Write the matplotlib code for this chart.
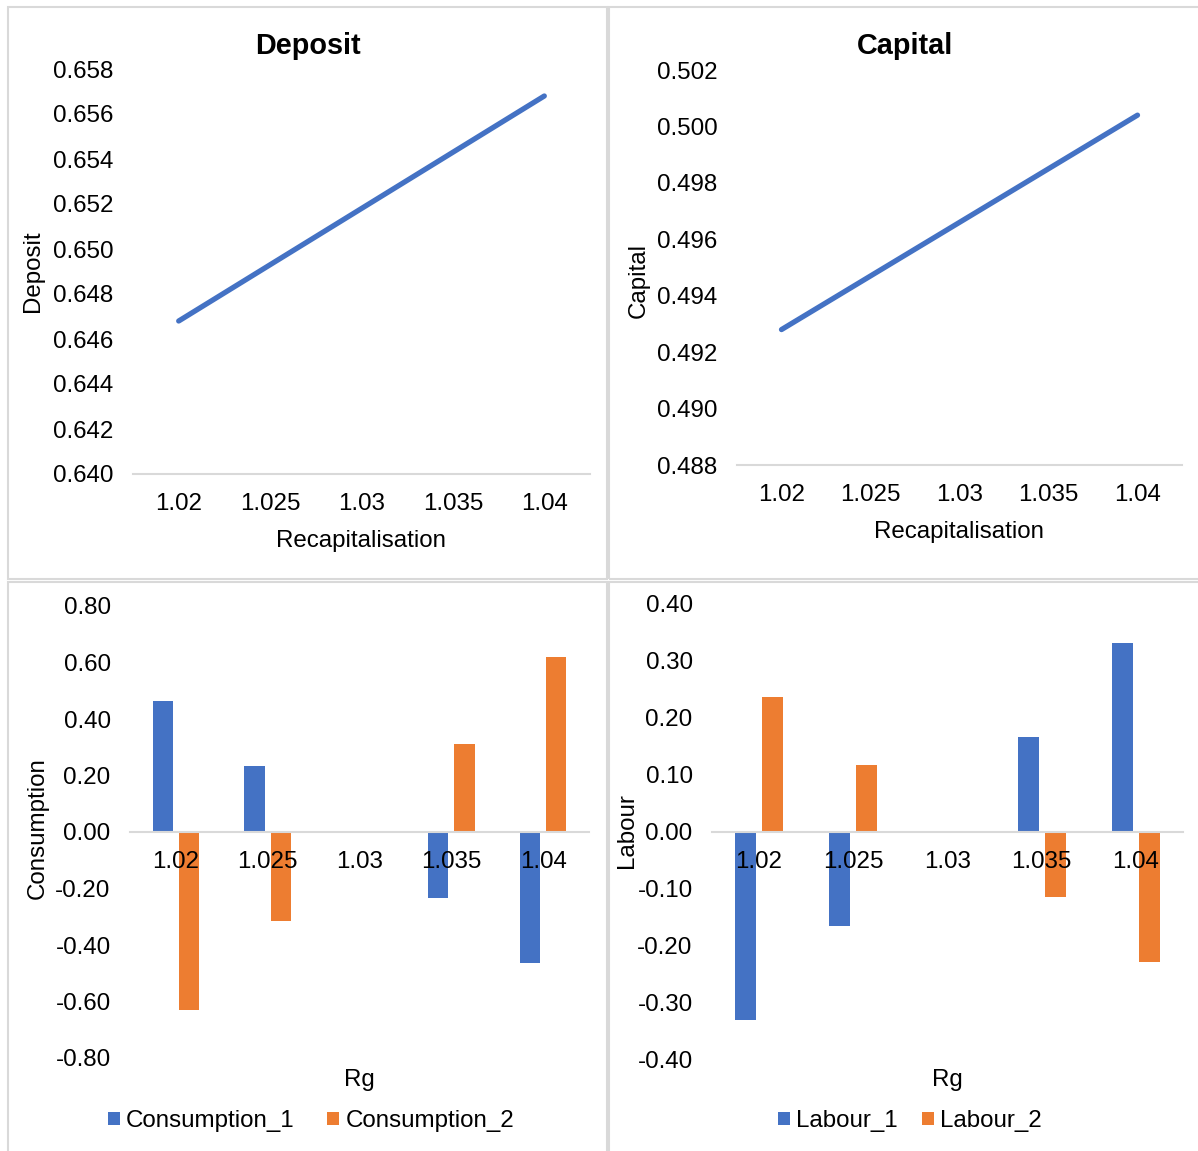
import matplotlib
matplotlib.use('Agg')

import numpy as np
import matplotlib.pyplot as plt
from matplotlib.patches import Rectangle
from matplotlib.ticker import FormatStrFormatter

plt.rcParams['font.family'] = ['Liberation Sans', 'DejaVu Sans']
plt.rcParams['font.size'] = 17.4
plt.rcParams['axes.unicode_minus'] = False

# data
rg = ['1.02', '1.025', '1.03', '1.035', '1.04']
deposit = [0.6468, 0.6493, 0.6518, 0.6543, 0.6568]
capital = [0.4928, 0.4947, 0.4966, 0.4985, 0.5004]
consumption_1 = [0.465, 0.232, 0.0, -0.232, -0.465]
consumption_2 = [-0.63, -0.315, 0.0, 0.31, 0.62]
labour_1 = [-0.33, -0.165, 0.0, 0.165, 0.33]
labour_2 = [0.235, 0.117, 0.0, -0.114, -0.229]

BLUE = '#4472C4'
ORANGE = '#ED7D31'
AXIS_GREY = '#D9D9D9'
FS = 17.4

W, H = 1198, 1151
fig = plt.figure(figsize=(W / 100, H / 100), dpi=100)


def box(x0, y0, x1, y1):
    # pixel box (origin top-left) -> figure fraction rect
    return [x0 / W, 1 - y1 / H, (x1 - x0) / W, (y1 - y0) / H]


def ticks(lo, hi, step, nd):
    # rounded tick values, with +0.0 so zero never prints as "-0.00"
    n = int(round((hi - lo) / step))
    return [round(lo + i * step, nd) + 0.0 for i in range(n + 1)]


# chart area frames
for x0, y0, x1, y1 in [(8, 7, 607, 579), (609, 7, 1205, 579),
                       (8, 582, 607, 1160), (609, 582, 1205, 1160)]:
    fig.add_artist(Rectangle((x0 / W, 1 - y1 / H), (x1 - x0) / W, (y1 - y0) / H,
                             transform=fig.transFigure, fill=False,
                             edgecolor=AXIS_GREY, linewidth=1.5))


def style(ax):
    for s in ['top', 'right', 'left']:
        ax.spines[s].set_visible(False)
    ax.spines['bottom'].set_color(AXIS_GREY)
    ax.spines['bottom'].set_linewidth(1.5)
    ax.tick_params(axis='both', length=0, labelsize=FS)
    ax.tick_params(axis='y', pad=14)
    ax.tick_params(axis='x', pad=14)
    ax.set_xticks(range(len(rg)))
    ax.set_xticklabels(rg)
    ax.set_xlim(-0.5, len(rg) - 0.5)
    ax.patch.set_alpha(0)


x = np.arange(len(rg))

# Deposit
ax1 = fig.add_axes(box(133, 69, 590, 474))
style(ax1)
ax1.plot(x, deposit, color=BLUE, lw=3.8, solid_capstyle='round')
ax1.set_ylim(0.640, 0.658)
ax1.set_yticks(ticks(0.640, 0.658, 0.002, 3))
ax1.yaxis.set_major_formatter(FormatStrFormatter('%.3f'))
ax1.set_ylabel('Deposit')
ax1.yaxis.set_label_coords(-0.195, 0.5)
ax1.set_xlabel('Recapitalisation')
ax1.xaxis.set_label_coords(0.5, -0.138)
fig.text(307.5 / W, 1 - 46 / H, 'Deposit', ha='center', va='center',
         fontsize=20.8, fontweight='bold')

# Capital
ax2 = fig.add_axes(box(737, 70, 1182, 465))
style(ax2)
ax2.plot(x, capital, color=BLUE, lw=3.8, solid_capstyle='round')
ax2.set_ylim(0.488, 0.502)
ax2.set_yticks(ticks(0.488, 0.502, 0.002, 3))
ax2.yaxis.set_major_formatter(FormatStrFormatter('%.3f'))
ax2.set_ylabel('Capital')
ax2.yaxis.set_label_coords(-0.195, 0.468)
ax2.set_xlabel('Recapitalisation')
ax2.xaxis.set_label_coords(0.5, -0.141)
fig.text(905 / W, 1 - 46 / H, 'Capital', ha='center', va='center',
         fontsize=20.8, fontweight='bold')


def bars(ax, s1, s2, n1, n2, legend_x, colspace):
    style(ax)
    ax.spines['bottom'].set_position(('data', 0))
    w = 0.223
    off = 0.143
    b1 = ax.bar(x - off, s1, width=w, color=BLUE, label=n1, zorder=1)
    b2 = ax.bar(x + off, s2, width=w, color=ORANGE, label=n2, zorder=1)
    ax.yaxis.set_major_formatter(FormatStrFormatter('%.2f'))
    ax.set_xlabel('Rg')
    fig.legend([b1, b2], [n1, n2], loc='center',
               bbox_to_anchor=(legend_x / W, 1 - 1121 / H), ncol=2,
               frameon=False, handlelength=0.5, handleheight=0.5,
               handletextpad=0.25, columnspacing=colspace, fontsize=FS)


# Consumption
ax3 = fig.add_axes(box(130, 606, 589, 1058))
bars(ax3, consumption_1, consumption_2, 'Consumption_1', 'Consumption_2', 311, 1.35)
ax3.set_ylim(-0.8, 0.8)
ax3.set_yticks(ticks(-0.8, 0.8, 0.2, 2))
ax3.set_ylabel('Consumption')
ax3.yaxis.set_label_coords(-0.176, 0.509)
ax3.xaxis.set_label_coords(0.5, -0.024)

# Labour
ax4 = fig.add_axes(box(712, 603, 1183, 1060))
bars(ax4, labour_1, labour_2, 'Labour_1', 'Labour_2', 910, 1.0)
ax4.set_ylim(-0.4, 0.4)
ax4.set_yticks(ticks(-0.4, 0.4, 0.1, 2))
ax4.set_ylabel('Labour')
ax4.yaxis.set_label_coords(-0.157, 0.501)
ax4.xaxis.set_label_coords(0.5, -0.02)

fig.savefig('out.png', dpi=100)
